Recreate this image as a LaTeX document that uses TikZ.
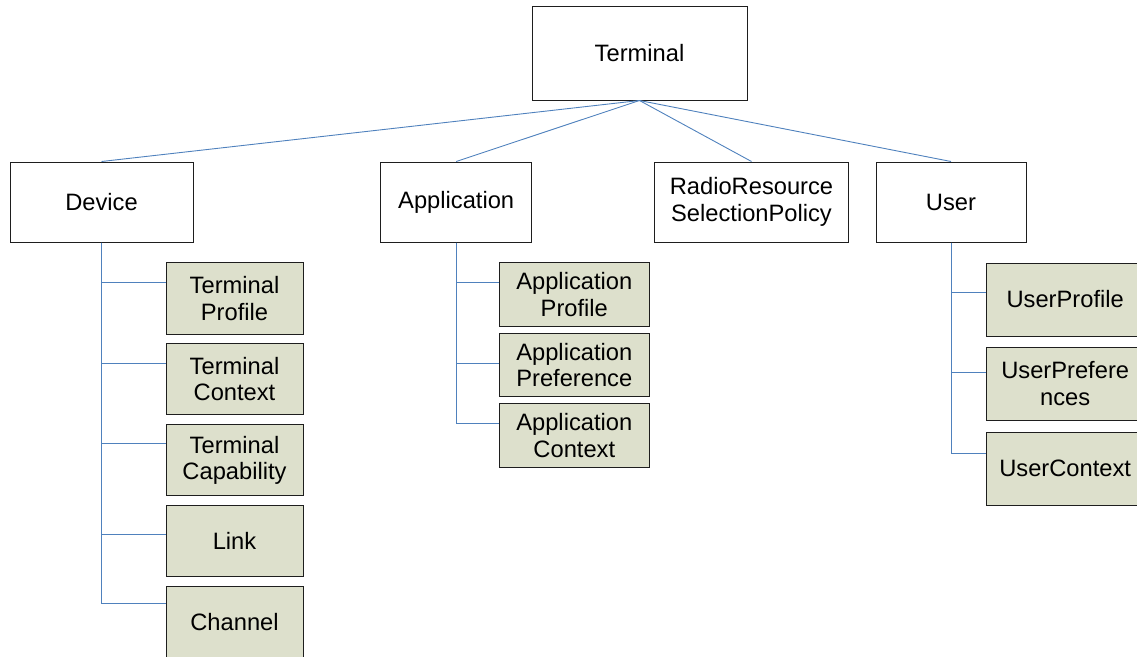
\documentclass[tikz,border=0pt]{standalone}
\usepackage{fontspec}
\setmainfont{Liberation Sans}
\definecolor{connblue}{RGB}{79,129,189}
\definecolor{leaffill}{RGB}{221,224,204}
\definecolor{boxline}{RGB}{30,30,30}
\tikzset{
  x=1pt, y=-1pt,
  topbox/.style={draw=boxline, line width=1pt, fill=white, inner sep=0pt, align=center,
    font=\fontsize{23.7}{26.5}\selectfont},
  leafbox/.style={topbox, fill=leaffill},
  conn/.style={draw=connblue, line width=0.9pt},
}
\begin{document}
\begin{tikzpicture}
\useasboundingbox (0,0) rectangle (1137,656);
\clip (0,0) rectangle (1137,656);
% top level
\node[topbox, minimum width=215pt, minimum height=94pt] (term) at (639.5,53) {Terminal};
\node[topbox, minimum width=183pt, minimum height=80pt] (dev) at (101.5,202) {Device};
\node[topbox, minimum width=150.5pt, minimum height=80pt] (app) at (456.2,202) {Application};
\node[topbox, minimum width=194pt, minimum height=80pt] (rrs) at (751.5,202) {RadioResource\\SelectionPolicy};
\node[topbox, minimum width=150pt, minimum height=80pt] (usr) at (951,202) {User};
% device children
\node[leafbox, minimum width=137pt, minimum height=71.5pt] (tp) at (234.5,298.5) {Terminal\\Profile};
\node[leafbox, minimum width=137pt, minimum height=71.5pt] (tc) at (234.5,379.2) {Terminal\\Context};
\node[leafbox, minimum width=137pt, minimum height=71.5pt] (tcap) at (234.5,460.2) {Terminal\\Capability};
\node[leafbox, minimum width=137pt, minimum height=71.5pt] (lnk) at (234.5,541) {Link};
\node[leafbox, minimum width=137pt, minimum height=71.5pt] (chn) at (234.5,621.8) {Channel};
% application children
\node[leafbox, minimum width=150pt, minimum height=63.5pt] (ap) at (574.3,294.5) {Application\\Profile};
\node[leafbox, minimum width=150pt, minimum height=63.5pt] (apr) at (574.3,365.2) {Application\\Preference};
\node[leafbox, minimum width=150pt, minimum height=63.5pt] (ac) at (574.3,435.7) {Application\\Context};
% user children
\node[leafbox, minimum width=157pt, minimum height=73pt] (up) at (1065.2,299.5) {UserProfile};
\node[leafbox, minimum width=157pt, minimum height=73pt] (upr) at (1065.2,383.5) {UserPrefere\\nces};
\node[leafbox, minimum width=157pt, minimum height=73pt] (uc) at (1065.2,468.5) {UserContext};
% connectors from root
\draw[conn] (term.south) -- (dev.north);
\draw[conn] (term.south) -- (app.north);
\draw[conn] (term.south) -- (rrs.north);
\draw[conn] (term.south) -- (usr.north);
% device branches
\draw[conn] (dev.south) |- ([yshift=-20pt]tp.north west);
\draw[conn] (dev.south) |- ([yshift=-20pt]tc.north west);
\draw[conn] (dev.south) |- ([yshift=-19.5pt]tcap.north west);
\draw[conn] (dev.south) |- ([yshift=-30pt]lnk.north west);
\draw[conn] (dev.south) |- ([yshift=-18pt]chn.north west);
% application branches
\draw[conn] (app.south) |- ([yshift=-20pt]ap.north west);
\draw[conn] (app.south) |- ([yshift=-30pt]apr.north west);
\draw[conn] (app.south) |- ([yshift=-20pt]ac.north west);
% user branches
\draw[conn] (usr.south) |- ([yshift=-30pt]up.north west);
\draw[conn] (usr.south) |- ([yshift=-26pt]upr.north west);
\draw[conn] (usr.south) |- ([yshift=-22pt]uc.north west);
\end{tikzpicture}
\end{document}
